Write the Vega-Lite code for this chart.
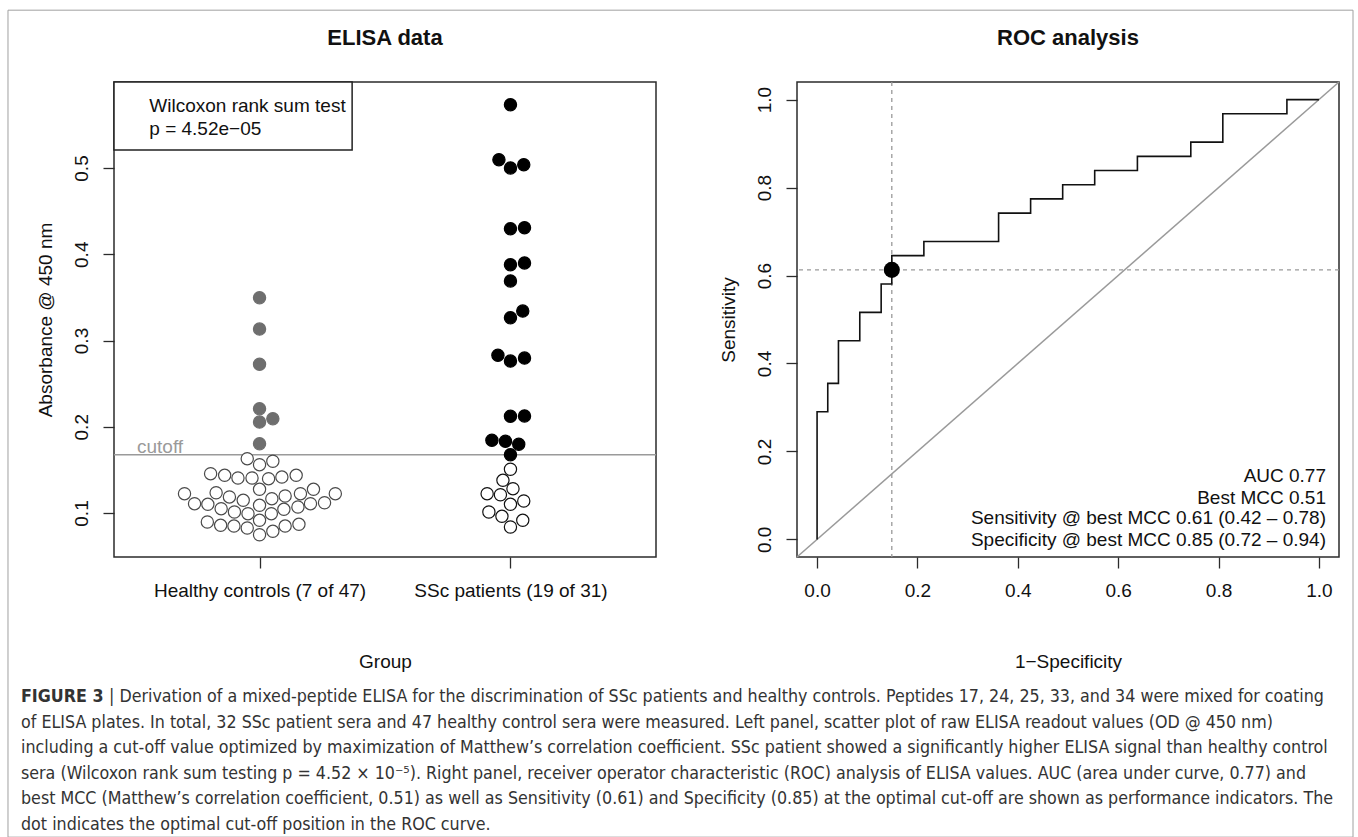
{
  "$schema": "https://vega.github.io/schema/vega-lite/v6.json",
  "background": "white",
  "padding": {"left": 7, "top": 9, "right": 0, "bottom": 0},
  "autosize": {"type": "pad"},
  "bounds": "flush",
  "columns": 2,
  "spacing": {"row": 115, "column": 141},
  "config": {
    "font": "Liberation Sans",
    "view": {"stroke": "#2b2b2b", "strokeWidth": 1.5},
    "axis": {"grid": false, "domain": false, "ticks": true, "tickSize": 11, "tickColor": "#2b2b2b", "tickWidth": 1.3, "labelFont": "Liberation Sans", "labelFontSize": 19, "labelColor": "#111111", "labelLimit": 0, "titleFont": "Liberation Sans", "titleFontSize": 19, "titleFontWeight": "normal", "titleColor": "#111111", "labelFlush": false, "labelOverlap": false},
    "title": {"font": "Liberation Sans", "fontSize": 22, "fontWeight": "bold", "color": "#111111"}
  },
  "concat": [
        {
          "width": 542,
          "height": 475,
          "title": {"text": "ELISA data", "anchor": "middle", "offset": 14, "baseline": "alphabetic"},
          "layer": [
            {
              "data": {"values": [{"y": 0.1676}]},
              "mark": {"type": "rule", "color": "#9a9a9a", "strokeWidth": 1.5},
              "encoding": {"y": {"field": "y", "type": "quantitative", "scale": {"domain": [0.049, 0.5997], "nice": false, "zero": false}}}
            },
            {
              "data": {"values": [
                {"x": 1.000, "y": 0.3496, "k": "cp"}, {"x": 1.000, "y": 0.3133, "k": "cp"}, {"x": 1.000, "y": 0.2724, "k": "cp"}, {"x": 1.000, "y": 0.2209, "k": "cp"}, {"x": 1.053, "y": 0.2093, "k": "cp"}, {"x": 1.000, "y": 0.2055, "k": "cp"}, {"x": 1.000, "y": 0.1803, "k": "cp"},
                {"x": 0.951, "y": 0.1630, "k": "cn"}, {"x": 1.000, "y": 0.1560, "k": "cn"}, {"x": 1.053, "y": 0.1600, "k": "cn"}, {"x": 0.805, "y": 0.1456, "k": "cn"}, {"x": 0.861, "y": 0.1437, "k": "cn"}, {"x": 0.914, "y": 0.1406, "k": "cn"}, {"x": 0.970, "y": 0.1406, "k": "cn"}, {"x": 1.036, "y": 0.1398, "k": "cn"}, {"x": 1.089, "y": 0.1417, "k": "cn"}, {"x": 1.146, "y": 0.1437, "k": "cn"},
                {"x": 1.000, "y": 0.1275, "k": "cn"}, {"x": 1.215, "y": 0.1275, "k": "cn"}, {"x": 0.701, "y": 0.1224, "k": "cn"}, {"x": 0.827, "y": 0.1235, "k": "cn"}, {"x": 0.880, "y": 0.1186, "k": "cn"}, {"x": 1.102, "y": 0.1197, "k": "cn"}, {"x": 1.163, "y": 0.1224, "k": "cn"}, {"x": 1.302, "y": 0.1224, "k": "cn"}, {"x": 1.049, "y": 0.1166, "k": "cn"}, {"x": 0.935, "y": 0.1147, "k": "cn"},
                {"x": 0.741, "y": 0.1108, "k": "cn"}, {"x": 0.794, "y": 0.1101, "k": "cn"}, {"x": 1.203, "y": 0.1108, "k": "cn"}, {"x": 1.259, "y": 0.1119, "k": "cn"}, {"x": 1.000, "y": 0.1089, "k": "cn"}, {"x": 0.847, "y": 0.1050, "k": "cn"}, {"x": 1.153, "y": 0.1070, "k": "cn"}, {"x": 1.097, "y": 0.1043, "k": "cn"}, {"x": 0.900, "y": 0.1012, "k": "cn"}, {"x": 0.954, "y": 0.0992, "k": "cn"},
                {"x": 1.047, "y": 0.0992, "k": "cn"}, {"x": 1.000, "y": 0.0915, "k": "cn"}, {"x": 0.792, "y": 0.0896, "k": "cn"}, {"x": 0.845, "y": 0.0857, "k": "cn"}, {"x": 0.898, "y": 0.0849, "k": "cn"}, {"x": 0.951, "y": 0.0826, "k": "cn"}, {"x": 1.102, "y": 0.0849, "k": "cn"}, {"x": 1.157, "y": 0.0869, "k": "cn"}, {"x": 1.053, "y": 0.0788, "k": "cn"}, {"x": 1.000, "y": 0.0748, "k": "cn"},
                {"x": 2.000, "y": 0.5734, "k": "sp"}, {"x": 1.954, "y": 0.5096, "k": "sp"}, {"x": 2.000, "y": 0.5000, "k": "sp"}, {"x": 2.053, "y": 0.5038, "k": "sp"}, {"x": 2.000, "y": 0.4296, "k": "sp"}, {"x": 2.056, "y": 0.4308, "k": "sp"}, {"x": 2.000, "y": 0.3879, "k": "sp"}, {"x": 2.056, "y": 0.3899, "k": "sp"}, {"x": 2.000, "y": 0.3690, "k": "sp"}, {"x": 2.049, "y": 0.3342, "k": "sp"},
                {"x": 2.000, "y": 0.3264, "k": "sp"}, {"x": 1.950, "y": 0.2828, "k": "sp"}, {"x": 2.000, "y": 0.2762, "k": "sp"}, {"x": 2.056, "y": 0.2797, "k": "sp"}, {"x": 2.000, "y": 0.2121, "k": "sp"}, {"x": 2.056, "y": 0.2125, "k": "sp"}, {"x": 1.926, "y": 0.1843, "k": "sp"}, {"x": 1.980, "y": 0.1831, "k": "sp"}, {"x": 2.033, "y": 0.1797, "k": "sp"}, {"x": 2.000, "y": 0.1676, "k": "sp"},
                {"x": 2.000, "y": 0.1507, "k": "sn"}, {"x": 1.970, "y": 0.1379, "k": "sn"}, {"x": 2.010, "y": 0.1282, "k": "sn"}, {"x": 1.907, "y": 0.1224, "k": "sn"}, {"x": 1.960, "y": 0.1212, "k": "sn"}, {"x": 2.053, "y": 0.1139, "k": "sn"}, {"x": 2.000, "y": 0.1101, "k": "sn"}, {"x": 1.914, "y": 0.1012, "k": "sn"}, {"x": 1.966, "y": 0.0962, "k": "sn"}, {"x": 2.049, "y": 0.0915, "k": "sn"}, {"x": 2.000, "y": 0.0838, "k": "sn"}
              ]},
              "mark": {"type": "circle", "size": 150, "strokeWidth": 1.2, "opacity": 1},
              "encoding": {
                "x": {"field": "x", "type": "quantitative", "scale": {"domain": [0.42, 2.58], "nice": false, "zero": false},
                      "axis": {"values": [1, 2], "labelExpr": "datum.value == 1 ? 'Healthy controls (7 of 47)' : 'SSc patients (19 of 31)'", "title": "Group", "labelPadding": 13, "titlePadding": 52}},
                "y": {"field": "y", "type": "quantitative", "scale": {"domain": [0.049, 0.5997], "nice": false, "zero": false},
                      "axis": {"values": [0.1, 0.2, 0.3, 0.4, 0.5], "format": ".1f", "labelAngle": 270, "labelAlign": "center", "labelBaseline": "bottom", "labelPadding": 12, "title": "Absorbance @ 450 nm", "titlePadding": 17}},
                "fill": {"field": "k", "type": "nominal", "scale": {"domain": ["cp", "cn", "sp", "sn"], "range": ["#6e6e6e", "#ffffff", "#000000", "#ffffff"]}, "legend": null},
                "stroke": {"field": "k", "type": "nominal", "scale": {"domain": ["cp", "cn", "sp", "sn"], "range": ["#6e6e6e", "#4a4a4a", "#000000", "#111111"]}, "legend": null}
              }
            },
            {
              "data": {"values": [{"x": 0.42, "x2": 1.369, "y": 0.5209, "y2": 0.5997}]},
              "mark": {"type": "rect", "fill": "white", "stroke": "#222222", "strokeWidth": 1.5},
              "encoding": {"x": {"field": "x", "type": "quantitative"}, "x2": {"field": "x2"}, "y": {"field": "y", "type": "quantitative"}, "y2": {"field": "y2"}}
            },
            {
              "data": {"values": [{"t": "Wilcoxon rank sum test", "x": 0.5606, "y": 0.5649}, {"t": "p = 4.52e\u221205", "x": 0.5606, "y": 0.5383}]},
              "mark": {"type": "text", "align": "left", "baseline": "alphabetic", "fontSize": 19, "color": "#111111"},
              "encoding": {"x": {"field": "x", "type": "quantitative"}, "y": {"field": "y", "type": "quantitative"}, "text": {"field": "t"}}
            },
            {
              "data": {"values": [{"t": "cutoff", "x": 0.5116, "y": 0.1699}]},
              "mark": {"type": "text", "align": "left", "baseline": "alphabetic", "fontSize": 19, "color": "#9a9a9a"},
              "encoding": {"x": {"field": "x", "type": "quantitative"}, "y": {"field": "y", "type": "quantitative"}, "text": {"field": "t"}}
            }
          ]
        },
        {
          "width": 542,
          "height": 475,
          "title": {"text": "ROC analysis", "anchor": "middle", "offset": 14, "baseline": "alphabetic"},
          "layer": [
            {
              "data": {"values": [{"x": -0.04, "y": -0.04, "x2": 1.04, "y2": 1.04}]},
              "mark": {"type": "rule", "color": "#9a9a9a", "strokeWidth": 1.5},
              "encoding": {
                "x": {"field": "x", "type": "quantitative", "scale": {"domain": [-0.04, 1.04], "nice": false, "zero": false},
                      "axis": {"values": [0, 0.2, 0.4, 0.6, 0.8, 1], "format": ".1f", "title": "1\u2212Specificity", "labelPadding": 13, "titlePadding": 52}},
                "y": {"field": "y", "type": "quantitative", "scale": {"domain": [-0.04, 1.04], "nice": false, "zero": false},
                      "axis": {"values": [0, 0.2, 0.4, 0.6, 0.8, 1], "format": ".1f", "labelAngle": 270, "labelAlign": "center", "labelBaseline": "bottom", "labelPadding": 12, "title": "Sensitivity", "titlePadding": 17}},
                "x2": {"field": "x2"},
                "y2": {"field": "y2"}
              }
            },
            {
              "data": {"values": [{"x": 0.1489}]},
              "mark": {"type": "rule", "color": "#9a9a9a", "strokeWidth": 1.3, "strokeDash": [4, 4]},
              "encoding": {"x": {"field": "x", "type": "quantitative"}}
            },
            {
              "data": {"values": [{"y": 0.6129}]},
              "mark": {"type": "rule", "color": "#9a9a9a", "strokeWidth": 1.3, "strokeDash": [4, 4]},
              "encoding": {"y": {"field": "y", "type": "quantitative"}}
            },
            {
              "data": {"values": [
                {"x": 0, "y": 0, "o": 0}, {"x": 0, "y": 0.2903, "o": 1}, {"x": 0.0213, "y": 0.2903, "o": 2}, {"x": 0.0213, "y": 0.3548, "o": 3}, {"x": 0.0426, "y": 0.3548, "o": 4}, {"x": 0.0426, "y": 0.4516, "o": 5}, {"x": 0.0851, "y": 0.4516, "o": 6}, {"x": 0.0851, "y": 0.5161, "o": 7}, {"x": 0.1277, "y": 0.5161, "o": 8}, {"x": 0.1277, "y": 0.5806, "o": 9},
                {"x": 0.1489, "y": 0.5806, "o": 10}, {"x": 0.1489, "y": 0.6452, "o": 11}, {"x": 0.2128, "y": 0.6452, "o": 12}, {"x": 0.2128, "y": 0.6774, "o": 13}, {"x": 0.3617, "y": 0.6774, "o": 14}, {"x": 0.3617, "y": 0.7419, "o": 15}, {"x": 0.4255, "y": 0.7419, "o": 16}, {"x": 0.4255, "y": 0.7742, "o": 17}, {"x": 0.4894, "y": 0.7742, "o": 18}, {"x": 0.4894, "y": 0.8065, "o": 19},
                {"x": 0.5532, "y": 0.8065, "o": 20}, {"x": 0.5532, "y": 0.8387, "o": 21}, {"x": 0.6383, "y": 0.8387, "o": 22}, {"x": 0.6383, "y": 0.8710, "o": 23}, {"x": 0.7447, "y": 0.8710, "o": 24}, {"x": 0.7447, "y": 0.9032, "o": 25}, {"x": 0.8085, "y": 0.9032, "o": 26}, {"x": 0.8085, "y": 0.9677, "o": 27}, {"x": 0.9362, "y": 0.9677, "o": 28}, {"x": 0.9362, "y": 1.0, "o": 29}, {"x": 1.0, "y": 1.0, "o": 30}
              ]},
              "mark": {"type": "line", "color": "#111111", "strokeWidth": 1.6},
              "encoding": {"x": {"field": "x", "type": "quantitative"}, "y": {"field": "y", "type": "quantitative"}, "order": {"field": "o", "type": "quantitative"}}
            },
            {
              "data": {"values": [{"x": 0.1489, "y": 0.6129}]},
              "mark": {"type": "circle", "size": 260, "color": "#000000", "opacity": 1},
              "encoding": {"x": {"field": "x", "type": "quantitative"}, "y": {"field": "y", "type": "quantitative"}}
            },
            {
              "data": {"values": [
                {"t": "AUC 0.77", "x": 1.0141, "y": 0.1305},
                {"t": "Best MCC 0.51", "x": 1.0141, "y": 0.0816},
                {"t": "Sensitivity @ best MCC 0.61 (0.42 \u2013 0.78)", "x": 1.0141, "y": 0.0339},
                {"t": "Specificity @ best MCC 0.85 (0.72 \u2013 0.94)", "x": 1.0141, "y": -0.015}
              ]},
              "mark": {"type": "text", "align": "right", "baseline": "alphabetic", "fontSize": 19, "color": "#111111"},
              "encoding": {"x": {"field": "x", "type": "quantitative"}, "y": {"field": "y", "type": "quantitative"}, "text": {"field": "t"}}
            }
          ]
        },
    {
      "width": 1,
      "height": 165,
      "view": {"stroke": null},
      "layer": [
        {
          "data": {"values": [{"x": -0.00972, "x2": 0.99552, "y": -27.13, "y2": 5.3}]},
          "mark": {"type": "rect", "fill": null, "fillOpacity": 0, "stroke": "#a0a0a0", "strokeWidth": 1},
          "encoding": {
            "x": {"field": "x", "type": "quantitative", "scale": {"domain": [0, 1], "range": [-93, 1245], "nice": false, "zero": false}, "axis": null},
            "x2": {"field": "x2"},
            "y": {"field": "y", "type": "quantitative", "scale": {"domain": [0, 5], "range": [30, 157.5], "nice": false, "zero": false}, "axis": null},
            "y2": {"field": "y2"}
          }
        },
        {
          "data": {"values": [{"t": "FIGURE 3", "x": 0, "y": 0}]},
          "mark": {"type": "text", "align": "left", "baseline": "alphabetic", "font": "Liberation Sans Narrow, DejaVu Sans Condensed, Liberation Sans", "fontSize": 17.7, "fontWeight": "bold", "color": "#333333"},
          "encoding": {"x": {"field": "x", "type": "quantitative"}, "y": {"field": "y", "type": "quantitative"}, "text": {"field": "t"}}
        },
        {
          "data": {"values": [{"t": "| Derivation of a mixed-peptide ELISA for the discrimination of SSc patients and healthy controls. Peptides 17, 24, 25, 33, and 34 were mixed for coating", "x": 0, "y": 0}]},
          "mark": {"type": "text", "align": "left", "baseline": "alphabetic", "dx": 88, "font": "Liberation Sans Narrow, DejaVu Sans Condensed, Liberation Sans", "fontSize": 17.7, "color": "#333333"},
          "encoding": {"x": {"field": "x", "type": "quantitative"}, "y": {"field": "y", "type": "quantitative"}, "text": {"field": "t"}}
        },
        {
          "data": {"values": [
            {"t": "of ELISA plates. In total, 32 SSc patient sera and 47 healthy control sera were measured. Left panel, scatter plot of raw ELISA readout values (OD @ 450 nm)", "x": 0, "y": 1},
            {"t": "including a cut-off value optimized by maximization of Matthew\u2019s correlation coefficient. SSc patient showed a significantly higher ELISA signal than healthy control", "x": 0, "y": 2},
            {"t": "sera (Wilcoxon rank sum testing p = 4.52 \u00d7 10\u207b\u2075). Right panel, receiver operator characteristic (ROC) analysis of ELISA values. AUC (area under curve, 0.77) and", "x": 0, "y": 3},
            {"t": "best MCC (Matthew\u2019s correlation coefficient, 0.51) as well as Sensitivity (0.61) and Specificity (0.85) at the optimal cut-off are shown as performance indicators. The", "x": 0, "y": 4},
            {"t": "dot indicates the optimal cut-off position in the ROC curve.", "x": 0, "y": 5}
          ]},
          "mark": {"type": "text", "align": "left", "baseline": "alphabetic", "font": "Liberation Sans Narrow, DejaVu Sans Condensed, Liberation Sans", "fontSize": 17.7, "color": "#333333"},
          "encoding": {"x": {"field": "x", "type": "quantitative"}, "y": {"field": "y", "type": "quantitative"}, "text": {"field": "t"}}
        }
      ]
    }
  ]
}
